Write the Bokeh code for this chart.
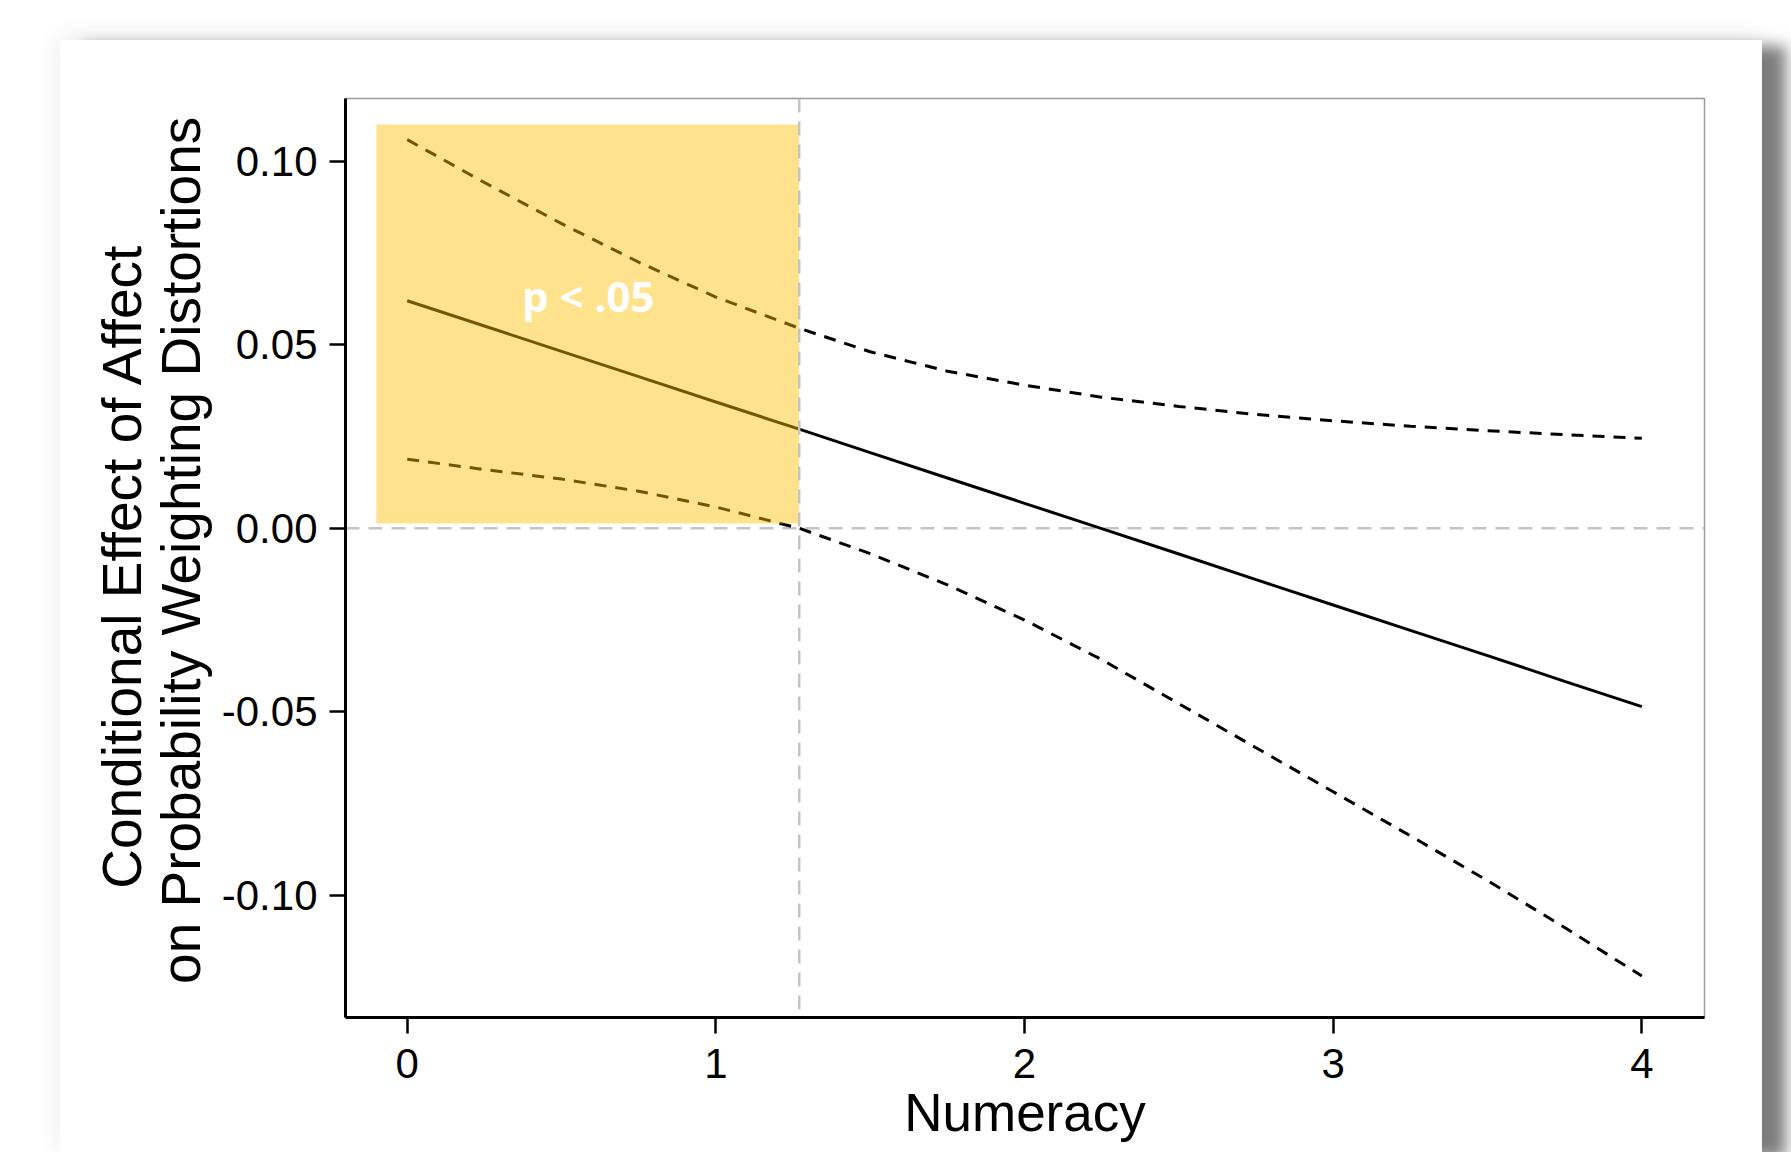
from bokeh.plotting import figure
from bokeh.models import Span, FixedTicker, Spacer
from bokeh.layouts import column, row
from bokeh.embed import file_html
from bokeh.resources import INLINE
from bokeh.core.properties import value

# ---- data ----
numeracy = [0, 0.25, 0.5, 0.75, 1.0, 1.27, 1.5, 1.75, 2.0, 2.25, 2.5, 2.75, 3.0, 3.25, 3.5, 3.75, 4.0]
effect = [0.0620, 0.0551, 0.0482, 0.0413, 0.0344, 0.0270, 0.0206, 0.0137, 0.0068, -0.0001,
          -0.0070, -0.0140, -0.0209, -0.0278, -0.0347, -0.0417, -0.0486]
ci_upper = [0.1059, 0.0942, 0.0830, 0.0725, 0.0630, 0.0545, 0.0481, 0.0428, 0.0390, 0.0357,
            0.0332, 0.0310, 0.0293, 0.0278, 0.0266, 0.0255, 0.0245]
ci_lower = [0.0188, 0.0160, 0.0134, 0.0101, 0.0058, 0.0000, -0.0069, -0.0154, -0.0250, -0.0358,
            -0.0478, -0.0598, -0.0718, -0.0838, -0.0960, -0.1088, -0.1220]

x_ticks = [0, 1, 2, 3, 4]
x_tick_labels = ["0", "1", "2", "3", "4"]
y_ticks = [-0.10, -0.05, 0.0, 0.05, 0.10]
y_tick_labels = ["-0.10", "-0.05", "0.00", "0.05", "0.10"]

threshold = [1.27]          # Johnson-Neyman point
region_left = [-0.1]
region_top = [0.110]
region_bottom = [0.0013]
sig_label = ["p < .05"]
sig_label_x = [0.372]
sig_label_y = [0.0635]

x_title = "Numeracy"
y_title = "Conditional Effect of Affect\u00a0\n\u00a0on Probability Weighting Distortions"

FONT = "Liberation Sans"

p = figure(width=1702, height=1112, x_range=(-0.2, 4.203), y_range=(-0.1333, 0.1171),
           output_backend="svg", toolbar_location=None,
           min_border_left=285, min_border_top=58, min_border_right=58, min_border_bottom=135)

p.background_fill_color = "white"
p.border_fill_color = "white"
p.xgrid.visible = False
p.ygrid.visible = False
p.outline_line_color = "#9a9a9a"
p.outline_line_width = 1.5

# reference lines
p.add_layout(Span(location=0, dimension="width", line_color="#c4c4c4",
                  line_width=2.5, line_dash="14 9", level="underlay"))
p.add_layout(Span(location=threshold[0], dimension="height", line_color="#c4c4c4",
                  line_width=2.5, line_dash="14 9"))

# effect and confidence band
p.line(numeracy, ci_upper, line_color="black", line_width=3, line_dash="12 9")
p.line(numeracy, ci_lower, line_color="black", line_width=3, line_dash="12 9")
p.line(numeracy, effect, line_color="black", line_width=3)

# significance region
p.quad(left=region_left, right=threshold, top=region_top, bottom=region_bottom,
       fill_color="#FFC000", fill_alpha=0.45, line_color=None)
p.text(x=sig_label_x, y=sig_label_y, text=sig_label, text_font=value("Open Sans"),
       text_font_style="bold", text_font_size="42px", text_color="white",
       text_baseline="alphabetic", text_align="left")

# axes
for ax in (p.xaxis[0], p.yaxis[0]):
    ax.axis_line_color = "black"
    ax.axis_line_width = 3
    ax.major_tick_line_color = "black"
    ax.major_tick_line_width = 2.5
    ax.major_tick_out = 16
    ax.major_tick_in = 0
    ax.minor_tick_line_color = None
    ax.major_label_text_font = FONT
    ax.major_label_text_font_size = "42px"
    ax.major_label_text_color = "black"
    ax.axis_label_text_font = FONT
    ax.axis_label_text_font_style = "normal"
    ax.axis_label_text_color = "black"

p.xaxis.ticker = FixedTicker(ticks=x_ticks)
p.xaxis.major_label_overrides = dict(zip(x_ticks, x_tick_labels))
p.xaxis.major_label_standoff = 15
p.xaxis.axis_label = x_title
p.xaxis.axis_label_text_font_size = "53px"
p.xaxis.axis_label_standoff = 2

p.yaxis.ticker = FixedTicker(ticks=y_ticks)
p.yaxis.major_label_overrides = dict(zip(y_ticks, y_tick_labels))
p.yaxis.major_label_standoff = 12
p.yaxis.axis_label = y_title
p.yaxis.axis_label_text_font_size = "55px"
p.yaxis.axis_label_text_line_height = 0.95
p.yaxis.axis_label_standoff = 7

p.styles = {"box-shadow": "24px 6px 14px rgba(0,0,0,0.5), -2px -3px 22px rgba(0,0,0,0.08)"}

layout = column(Spacer(width=1791, height=40),
                row(Spacer(width=60, height=1112), p))

open("out.html", "w").write(file_html(layout, INLINE))
